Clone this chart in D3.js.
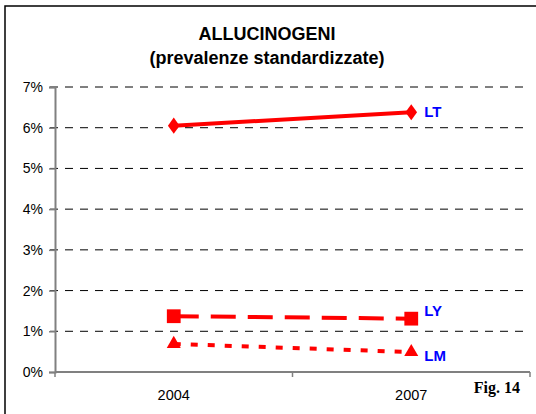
<!DOCTYPE html>
<html>
<head>
<meta charset="utf-8">
<script src="https://cdn.jsdelivr.net/npm/d3@7"></script>
<style>
	body { margin: 0; background: #fff; }
	svg { display: block; }
</style>
</head>
<body>
<svg id="chart"></svg>
<script>
// data
let years = ['2004', '2007'];
let seriesNames = ['LT', 'LY', 'LM'];
let valuesLT = [6.05, 6.38];
let valuesLY = [1.37, 1.31];
let valuesLM = [0.69, 0.49];
let yTicks = [0, 1, 2, 3, 4, 5, 6, 7];

let width = 536;
let height = 414;

let svg = d3.select('#chart')
	.attr('width', width)
	.attr('height', height);

// outer frame (runs off right / bottom edge)
svg.append('rect')
	.attr('x', 5).attr('y', 6)
	.attr('width', 545).attr('height', 420)
	.attr('fill', 'none').attr('stroke', 'black').attr('stroke-width', 1.5);

let x = d3.scaleBand().domain(years).range([55, 530]);
let y = d3.scaleLinear().domain([0, 7]).range([372, 87]);

// title
let title = svg.append('text')
	.attr('text-anchor', 'middle')
	.attr('font-family', 'Liberation Sans, Arial, sans-serif')
	.attr('font-weight', 'bold')
	.attr('font-size', 18);
title.append('tspan').attr('x', 267).attr('y', 40).text('ALLUCINOGENI');
title.append('tspan').attr('x', 267).attr('y', 64).text('(prevalenze standardizzate)');

// grid lines
svg.append('g')
	.selectAll('line')
	.data(yTicks.filter(d => d > 0))
	.enter().append('line')
	.attr('x1', 50).attr('x2', 526)
	.attr('y1', d => y(d)).attr('y2', d => y(d))
	.attr('stroke', 'black').attr('stroke-width', 1)
	.attr('stroke-dasharray', '8,7');

// y axis
let yAxis = svg.append('g')
	.attr('transform', 'translate(55,0)')
	.call(d3.axisLeft(y).tickValues(yTicks).tickSize(6).tickFormat(d => d + '%'));
yAxis.select('.domain').attr('stroke', '#808080').attr('stroke-width', 2);
yAxis.selectAll('.tick line').attr('stroke', '#808080').attr('stroke-width', 1.5);
yAxis.selectAll('.tick text')
	.attr('x', -12)
	.attr('font-family', 'Liberation Sans, Arial, sans-serif')
	.attr('font-size', 14).attr('fill', 'black');

// x axis
let xAxis = svg.append('g')
	.attr('transform', 'translate(0,372)');
xAxis.append('line')
	.attr('x1', 55).attr('x2', 530).attr('y1', 0).attr('y2', 0)
	.attr('stroke', '#808080').attr('stroke-width', 2);
let xEdges = [x.range()[0], x(years[1]), x.range()[1]];
xAxis.selectAll('.xtick')
	.data(xEdges)
	.enter().append('line')
	.attr('x1', d => d).attr('x2', d => d)
	.attr('y1', 0).attr('y2', 5)
	.attr('stroke', '#808080').attr('stroke-width', 1.5);
xAxis.selectAll('.xlabel')
	.data(years)
	.enter().append('text')
	.attr('x', d => x(d) + x.bandwidth() / 2)
	.attr('y', 28)
	.attr('text-anchor', 'middle')
	.attr('font-family', 'Liberation Sans, Arial, sans-serif')
	.attr('font-size', 14.5)
	.text(d => d);

let cx = d => x(d) + x.bandwidth() / 2;

let series = [
	{name: seriesNames[0], values: valuesLT, dash: null, symbol: d3.symbolDiamond, size: 75, labelDy: 0},
	{name: seriesNames[1], values: valuesLY, dash: '25,12', symbol: d3.symbolSquare, size: 190, labelDy: -8},
	{name: seriesNames[2], values: valuesLM, dash: '7,10', symbol: d3.symbolTriangle, size: 85, labelDy: 4}
];

let line = d3.line()
	.x(d => cx(d.year))
	.y(d => y(d.v));

series.forEach(s => {
	let pts = years.map((yr, i) => ({year: yr, v: s.values[i]}));
	svg.append('path')
		.datum(pts)
		.attr('d', line)
		.attr('fill', 'none')
		.attr('stroke', 'red')
		.attr('stroke-width', 4)
		.attr('stroke-dasharray', s.dash);
	svg.selectAll(null)
		.data(pts)
		.enter().append('path')
		.attr('transform', d => 'translate(' + cx(d.year) + ',' + y(d.v) + ')' + (s.symbol === d3.symbolDiamond ? ' scale(1.25,1)' : ''))
		.attr('d', d3.symbol().type(s.symbol).size(s.size))
		.attr('fill', 'red');
	svg.append('text')
		.attr('x', cx(years[1]) + 13)
		.attr('y', y(s.values[1]) + s.labelDy)
		.attr('dy', '0.35em')
		.attr('font-family', 'Liberation Sans, Arial, sans-serif')
		.attr('font-weight', 'bold')
		.attr('font-size', 15)
		.attr('fill', '#0000ff')
		.text(s.name);
});

// figure number
svg.append('text')
	.attr('x', 520).attr('y', 393)
	.attr('text-anchor', 'end')
	.attr('font-family', 'Liberation Serif, Times New Roman, serif')
	.attr('font-weight', 'bold')
	.attr('font-size', 16)
	.text('Fig. 14');
</script>
</body>
</html>
